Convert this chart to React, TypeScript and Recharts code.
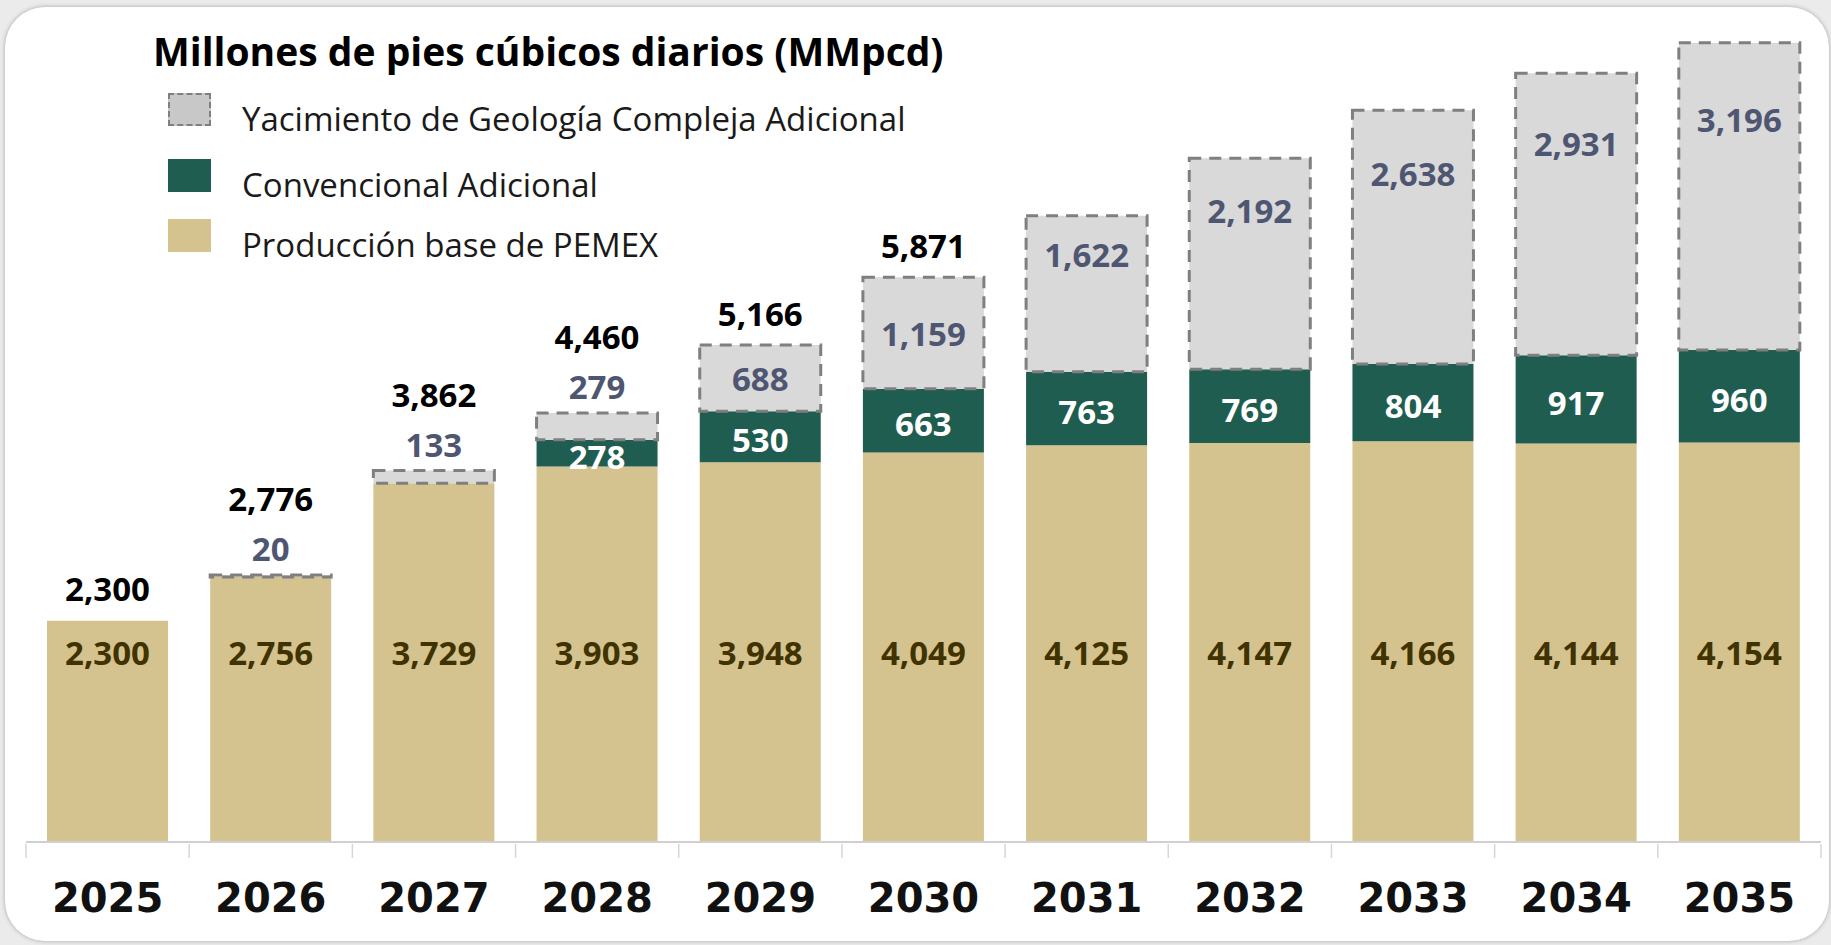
import { BarChart, Bar, XAxis, YAxis, LabelList } from "recharts";

const years = ["2025", "2026", "2027", "2028", "2029", "2030", "2031", "2032", "2033", "2034", "2035"];
const baseProduction = [2300, 2756, 3729, 3903, 3948, 4049, 4125, 4147, 4166, 4144, 4154];
const conventional = [0, 0, 0, 278, 530, 663, 763, 769, 804, 917, 960];
const complexGeology = [0, 20, 133, 279, 688, 1159, 1622, 2192, 2638, 2931, 3196];
const totals = [2300, 2776, 3862, 4460, 5166, 5871, null, null, null, null, null];

const TAN = "#d4c28f";
const GREEN = "#1f5d51";
const GRAY = "#d9d9d9";
const DASH = "#7f7f7f";
const SLATE = "#4f5672";

const AXIS_Y = 842;
const HALF_BAND = 81.6;
const FONT = "'Open Sans', 'Noto Sans', sans-serif";

const data = years.map((year, i) => ({
  year,
  base: baseProduction[i],
  conventional: conventional[i],
  complex: complexGeology[i],
  total: totals[i],
}));

const fmt = (v: number) => v.toLocaleString("en-US");

type LabelProps = { x?: number; y?: number; width?: number; height?: number; value?: number | null; index?: number };

const labelStyle = { fontFamily: FONT, fontWeight: 700, fontSize: 33 };

const BaseLabel = ({ x = 0, y = 0, width = 0, height = 0, value }: LabelProps) => {
  if (!value) return null;
  return (
    <text x={x + width / 2} y={y + height - 190} textAnchor="middle" dominantBaseline="central" fill="#403300" style={labelStyle}>
      {fmt(value)}
    </text>
  );
};

const GreenLabel = ({ x = 0, y = 0, width = 0, height = 0, value }: LabelProps) => {
  if (!value) return null;
  return (
    <text x={x + width / 2} y={y + height / 2 + 3} textAnchor="middle" dominantBaseline="central" fill="#ffffff" style={labelStyle}>
      {fmt(value)}
    </text>
  );
};

// small segments get the label above, tall ones near the top
const GrayLabel = ({ x = 0, y = 0, width = 0, height = 0, value }: LabelProps) => {
  if (!value) return null;
  let cy = y + height * 0.25;
  if (height < 40) cy = y - 26;
  else if (height < 130) cy = y + height / 2;
  return (
    <text x={x + width / 2} y={cy} textAnchor="middle" dominantBaseline="central" fill={SLATE} style={labelStyle}>
      {fmt(value)}
    </text>
  );
};

// drawn from the base segment: the stack top is found from the base segment's px per unit
const TotalLabel = ({ x = 0, y = 0, width = 0, height = 0, value, index = 0 }: LabelProps) => {
  if (value == null) return null;
  const perUnit = height / baseProduction[index];
  const top = y + height - value * perUnit;
  const grayH = complexGeology[index] * perUnit;
  const grayOutside = grayH > 0 && grayH < 40;
  return (
    <text x={x + width / 2} y={grayOutside ? top - 76 : top - 32} textAnchor="middle" dominantBaseline="central" fill="#000000" style={labelStyle}>
      {fmt(value)}
    </text>
  );
};

const YearTick = ({ x = 0, payload, index = 0 }: { x?: number; payload?: { value: string }; index?: number }) => (
  <g>
    <line x1={x - HALF_BAND} x2={x - HALF_BAND} y1={AXIS_Y + 2} y2={AXIS_Y + 16} stroke="#d6d6d6" strokeWidth={1.5} />
    {index === years.length - 1 && (
      <line x1={x + HALF_BAND} x2={x + HALF_BAND} y1={AXIS_Y + 2} y2={AXIS_Y + 16} stroke="#d6d6d6" strokeWidth={1.5} />
    )}
    <text
      x={x}
      y={898}
      textAnchor="middle"
      dominantBaseline="central"
      fill="#111111"
      style={{ fontFamily: "'DejaVu Sans', Verdana, sans-serif", fontWeight: 700, fontSize: 40 }}
    >
      {payload?.value}
    </text>
  </g>
);

const legendItems = [
  { label: "Yacimiento de Geología Compleja Adicional", fill: "#c8c8c8", dashed: true, top: 93 },
  { label: "Convencional Adicional", fill: GREEN, dashed: false, top: 159 },
  { label: "Producción base de PEMEX", fill: TAN, dashed: false, top: 219 },
];

function ChartLegend() {
  return (
    <div style={{ fontFamily: FONT, fontSize: 33, color: "#1a1a1a" }}>
      {legendItems.map((item) => (
        <div key={item.label}>
          <div
            style={{
              position: "absolute",
              left: 168,
              top: item.top,
              width: 43,
              height: 33,
              boxSizing: "border-box",
              background: item.fill,
              border: item.dashed ? `2px dashed ${DASH}` : "none",
            }}
          />
          <div style={{ position: "absolute", left: 242, top: item.top + 4, lineHeight: "44px", whiteSpace: "nowrap" }}>
            {item.label}
          </div>
        </div>
      ))}
    </div>
  );
}

export default function App() {
  return (
    <div style={{ position: "absolute", left: 0, top: 0, width: 1831, height: 945, background: "#ebebeb", overflow: "hidden" }}>
      <div
        style={{
          position: "absolute",
          left: 5,
          top: 7,
          width: 1824,
          height: 934,
          background: "#ffffff",
          borderRadius: 40,
          boxShadow: "0 0 4px rgba(0,0,0,0.3)",
        }}
      />
      <div
        style={{
          position: "absolute",
          left: 153,
          top: 29,
          fontFamily: FONT,
          fontWeight: 700,
          fontSize: 39,
          lineHeight: "44px",
          color: "#000000",
          whiteSpace: "nowrap",
        }}
      >
        Millones de pies cúbicos diarios (MMpcd)
      </div>
      <ChartLegend />
      <div style={{ position: "absolute", left: 0, top: 0 }}>
        <BarChart width={1831} height={945} data={data} margin={{ top: 34, right: 10, bottom: 0, left: 26 }}>
          <XAxis
            dataKey="year"
            height={103}
            interval={0}
            tickLine={false}
            axisLine={{ stroke: "#d0d0d0", strokeWidth: 2 }}
            tick={YearTick as never}
          />
          <YAxis hide domain={[0, 8400]} />
          <Bar dataKey="base" stackId="a" fill={TAN} barSize={121} isAnimationActive={false}>
            <LabelList dataKey="base" content={BaseLabel as never} />
            <LabelList dataKey="total" content={TotalLabel as never} />
          </Bar>
          <Bar dataKey="conventional" stackId="a" fill={GREEN} barSize={121} isAnimationActive={false}>
            <LabelList dataKey="conventional" content={GreenLabel as never} />
          </Bar>
          <Bar
            dataKey="complex"
            stackId="a"
            fill={GRAY}
            stroke={DASH}
            strokeWidth={3}
            strokeDasharray="12 8"
            barSize={121}
            isAnimationActive={false}
          >
            <LabelList dataKey="complex" content={GrayLabel as never} />
          </Bar>
        </BarChart>
      </div>
    </div>
  );
}
